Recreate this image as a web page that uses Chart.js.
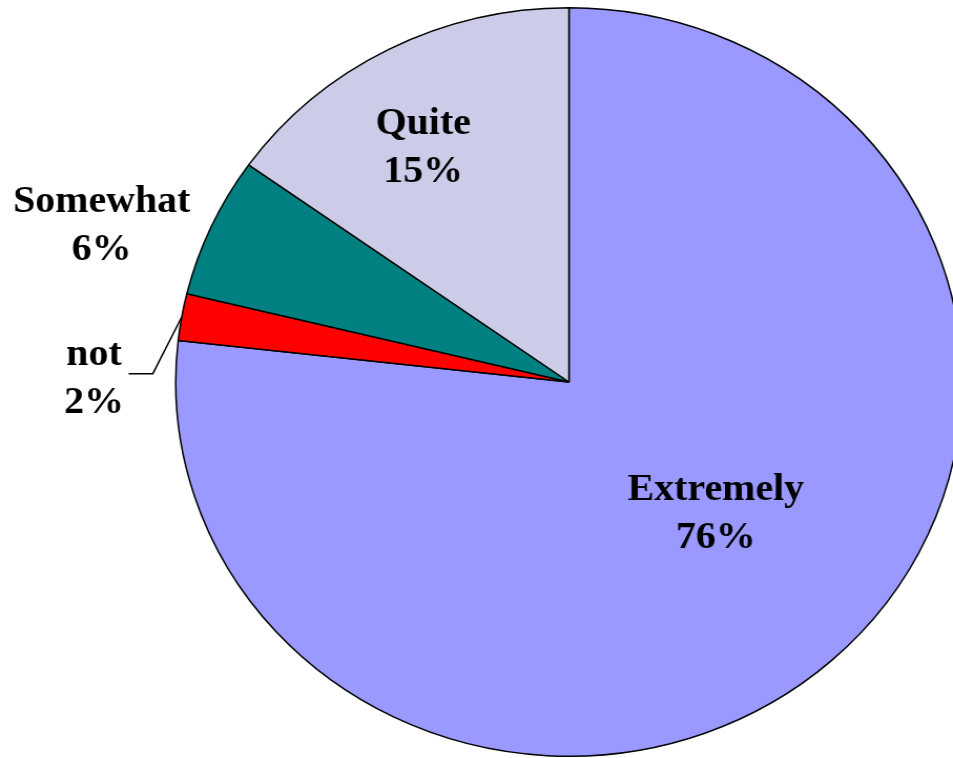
<!DOCTYPE html>
<html>
<head>
<meta charset="utf-8">
<script src="https://cdn.jsdelivr.net/npm/chart.js@4"></script>
<style>
    html, body { margin: 0; padding: 0; background: #fff; overflow: hidden; }
    #wrap {
        position: absolute; left: 0; top: 0;
        width: 920px; height: 758px;
        transform: scaleX(1.0507); transform-origin: 0 0;
    }
</style>
</head>
<body>
<div id="wrap"><canvas id="pieChart" width="920" height="758"></canvas></div>
<script>
const categories = ['Extremely', 'not', 'Somewhat', 'Quite'];
const percents = [76, 2, 6, 15];
const sliceColors = ['#9999FF', '#FF0000', '#008080', '#CCCCE8'];

// where each label sits: fraction of radius, and angle nudge (deg) from the slice middle
const labelPlacement = [
    { radius: 0.508, shift: -5.5 },
    { radius: 1.208, shift: -9.2, leader: true },
    { radius: 1.262, shift: -4.85 },
    { radius: 0.733, shift: -3.1 }
];

const sliceLabels = {
    id: 'sliceLabels',
    afterDatasetsDraw(chart) {
        const ctx = chart.ctx;
        const arcs = chart.getDatasetMeta(0).data;
        ctx.save();
        ctx.fillStyle = '#000';
        ctx.strokeStyle = '#000';
        ctx.font = 'bold 38px "Liberation Serif", "Times New Roman", serif';
        ctx.textAlign = 'center';
        ctx.textBaseline = 'alphabetic';
        arcs.forEach((arc, i) => {
            const p = labelPlacement[i];
            const mid = (arc.startAngle + arc.endAngle) / 2;
            const a = mid + p.shift * Math.PI / 180;
            const r = arc.outerRadius;
            const lx = arc.x + Math.cos(a) * r * p.radius;
            const ly = arc.y + Math.sin(a) * r * p.radius;
            ctx.fillText(categories[i], lx, ly - 11);
            ctx.fillText(percents[i] + '%', lx, ly + 37);
            if (p.leader) {
                ctx.lineWidth = 1.5;
                ctx.beginPath();
                ctx.moveTo(lx + 33, ly - 2);
                ctx.lineTo(lx + 56, ly - 2);
                ctx.lineTo(arc.x + Math.cos(mid) * r, arc.y + Math.sin(mid) * r);
                ctx.stroke();
            }
        });
        ctx.restore();
    }
};

new Chart(document.getElementById('pieChart'), {
    type: 'pie',
    data: {
        labels: categories,
        datasets: [{
            data: percents,
            backgroundColor: sliceColors,
            borderColor: '#000',
            borderWidth: 1.5
        }]
    },
    options: {
        responsive: false,
        animation: false,
        devicePixelRatio: 1,
        layout: { padding: { left: 166.5, right: 3.5, top: 7, bottom: 1 } },
        plugins: {
            legend: { display: false },
            tooltip: { enabled: false }
        }
    },
    plugins: [sliceLabels]
});
</script>
</body>
</html>
